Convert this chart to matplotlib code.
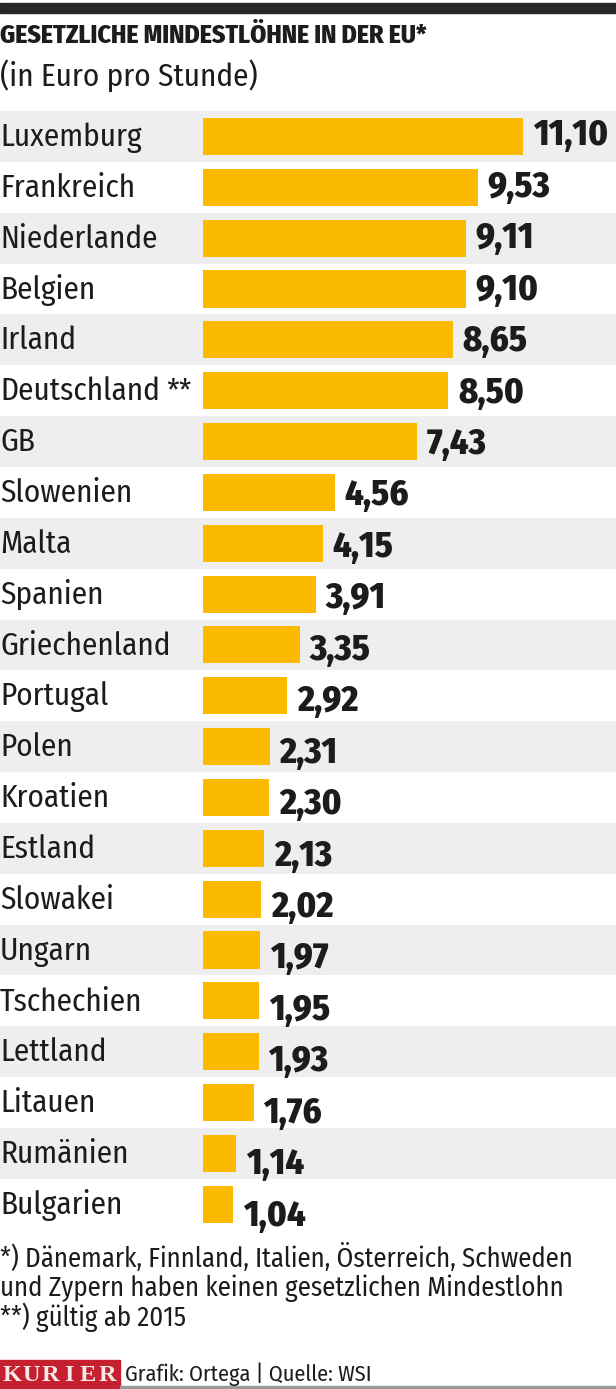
import matplotlib
matplotlib.use("Agg")
from matplotlib import pyplot as plt
from matplotlib.patches import Rectangle

countries = ["Luxemburg", "Frankreich", "Niederlande", "Belgien", "Irland",
             "Deutschland", "GB", "Slowenien", "Malta", "Spanien",
             "Griechenland", "Portugal", "Polen", "Kroatien", "Estland",
             "Slowakei", "Ungarn", "Tschechien", "Lettland", "Litauen",
             "Rumänien", "Bulgarien"]
values = [11.10, 9.53, 9.11, 9.10, 8.65, 8.50, 7.43, 4.56, 4.15, 3.91,
          3.35, 2.92, 2.31, 2.30, 2.13, 2.02, 1.97, 1.95, 1.93, 1.76,
          1.14, 1.04]
marked = "Deutschland"

title = "GESETZLICHE MINDESTLÖHNE IN DER EU*"
subtitle = "(in Euro pro Stunde)"
notes = ["*) Dänemark, Finnland, Italien, Österreich, Schweden",
         "und Zypern haben keinen gesetzlichen Mindestlohn",
         "**) gültig ab 2015"]
source = "Grafik: Ortega | Quelle: WSI"

FONT = ["Fira Sans Condensed", "Roboto Condensed", "DejaVu Sans"]
INK = "#1c1c1c"
BAR = "#fbba00"
BAND = "#eeeeee"
W, H = 616, 1389

fig = plt.figure(figsize=(W / 100, H / 100), dpi=100)

def fy(y):
    # pixel row from top -> figure fraction
    return 1 - y / H

# top dark strip
fig.patches.append(Rectangle((0, fy(13)), 1, 10 / H, transform=fig.transFigure,
                             color="#282828", zorder=0))
fig.text(0.0, fy(43), title, fontsize=18.5, fontweight="heavy", family=FONT,
         color=INK, va="baseline", ha="left")
fig.text(0.0, fy(86), subtitle, fontsize=22.5, family=FONT,
         color=INK, va="baseline", ha="left")

# bar area: 0 at x=203px, ~28.85 px per euro
top, row_h = 111, 50.85
n = len(countries)
ax = fig.add_axes([0, fy(top + n * row_h), 1, n * row_h / H])
px = 28.85
ax.set_xlim(-203 / px, (W - 203) / px)
ax.set_ylim(n - 0.5, -0.5)
ax.axis("off")

for i in range(0, n, 2):
    ax.axhspan(i - 0.5, i + 0.5, color=BAND, zorder=0, lw=0)

ypos = list(range(n))
ax.barh(ypos, values, height=0.73, color=BAR, zorder=2)

x0 = ax.get_xlim()[0]
for i, (c, v) in enumerate(zip(countries, values)):
    ax.text(x0, i + 0.19, c, fontsize=22.5, family=FONT, color=INK,
            va="baseline", ha="left")
    if c == marked:
        ax.text(x0 + 166 / px, i + 0.19, "**", fontsize=22.5, family=FONT,
                color=INK, va="baseline", ha="left")
    ax.annotate(f"{v:.2f}".replace(".", ","), (v, i), xytext=(7, -6.5 - i * 0.42),
                textcoords="offset points", fontsize=26, fontweight="heavy",
                family=FONT, color=INK, va="baseline", ha="left")

for k, line in enumerate(notes):
    fig.text(0.0, fy(1267 + k * 29.5), line, fontsize=19.3, family=FONT,
             color=INK, va="baseline", ha="left")

# footer
fig.patches.append(Rectangle((0, 0), 120 / W, 29 / H, transform=fig.transFigure,
                             color="#c4202f", zorder=1))
for k, ch in enumerate("KURIER"):
    fig.text((12 + k * 19) / W, fy(1381), ch, fontsize=17.5, family="Liberation Serif",
             fontweight="bold", color="#f6e8e8", va="baseline", ha="center")
fig.text(125 / W, fy(1381), source, fontsize=16, family=FONT,
         color=INK, va="baseline", ha="left")
fig.patches.append(Rectangle((120 / W, 0), 1, 3 / H, transform=fig.transFigure,
                             color="#9a9a9a", zorder=1))

fig.savefig("out.png", dpi=100, facecolor="white")
